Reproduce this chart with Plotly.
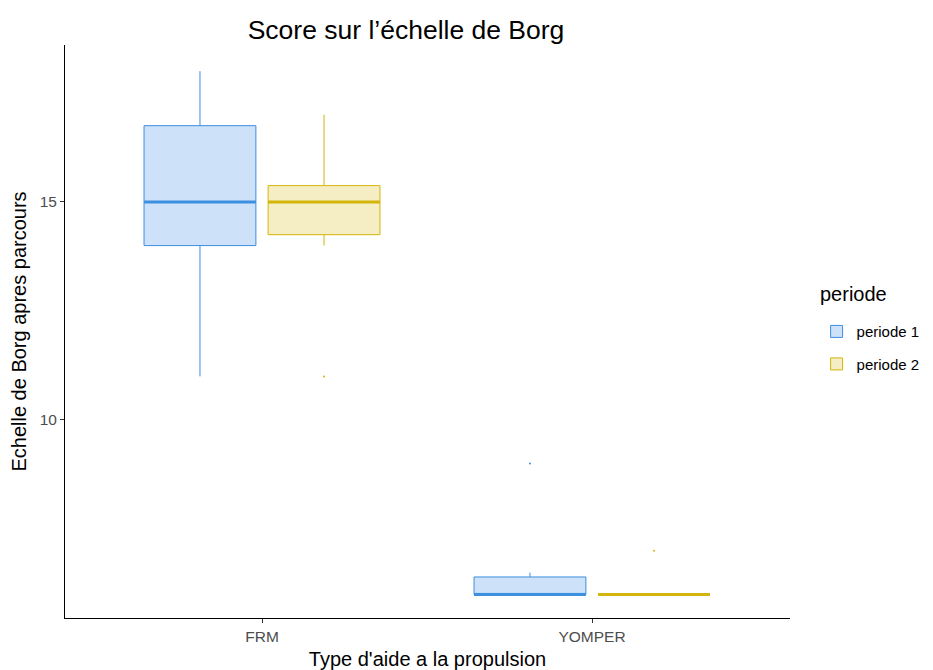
import plotly.graph_objects as go

# data
categories = ["FRM", "YOMPER"]
periods = ["periode 1", "periode 2"]

q1 = {"periode 1": [14, 6], "periode 2": [14.25, 6]}
median = {"periode 1": [15, 6], "periode 2": [15, 6]}
q3 = {"periode 1": [16.75, 6.4], "periode 2": [15.375, 6]}
lowerfence = {"periode 1": [11, 6], "periode 2": [14, 6]}
upperfence = {"periode 1": [18, 6.5], "periode 2": [17, 6]}
outliers_x = {"periode 1": ["YOMPER"], "periode 2": ["FRM", "YOMPER"]}
outliers_y = {"periode 1": [9], "periode 2": [11, 7]}

line_colors = {"periode 1": "#3d8fe0", "periode 2": "#d4b50b"}
fill_colors = {"periode 1": "#cde2f8", "periode 2": "#f5edc3"}

# dodge positions
dodge = {"periode 1": -0.188, "periode 2": 0.188}
box_w = 0.339
cat_pos = {c: i for i, c in enumerate(categories)}

# page has an 8px body margin, so the figure is a bit smaller
W, H = 925, 662

fig = go.Figure()
for p in periods:
    xs = [cat_pos[c] + dodge[p] for c in categories]
    fig.add_trace(go.Box(
        x=xs, q1=q1[p], median=median[p], q3=q3[p],
        lowerfence=lowerfence[p], upperfence=upperfence[p],
        width=box_w, whiskerwidth=0,
        name=p, legendgroup=p,
        line=dict(color=line_colors[p], width=1),
        fillcolor=fill_colors[p],
    ))
    # thicker median, like ggplot
    mx, my = [], []
    for i, c in enumerate(categories):
        x0 = cat_pos[c] + dodge[p]
        mx += [x0 - box_w / 2, x0 + box_w / 2, None]
        my += [median[p][i], median[p][i], None]
    fig.add_trace(go.Scatter(
        x=mx, y=my, mode="lines", line=dict(color=line_colors[p], width=3),
        showlegend=False, legendgroup=p, hoverinfo="skip",
    ))
    fig.add_trace(go.Scatter(
        x=[cat_pos[c] + dodge[p] for c in outliers_x[p]], y=outliers_y[p],
        mode="markers", marker=dict(color=line_colors[p], size=2),
        showlegend=False, legendgroup=p,
    ))

fig.update_layout(
    width=W, height=H,
    paper_bgcolor="white", plot_bgcolor="white",
    font=dict(family="Arial", color="black"),
    margin=dict(l=57, r=143, t=37, b=52, autoexpand=False),
    title=dict(text="Score sur l’échelle de Borg", x=398 / W, xanchor="center",
               y=1 - 22 / H, yanchor="middle", font=dict(size=26.5, color="black")),
    legend=dict(x=1.0367, xanchor="left", y=0.5285, yanchor="top",
                font=dict(size=15), tracegroupgap=10),
    showlegend=True,
    annotations=[dict(text="periode", xref="paper", yref="paper",
                      x=1.0386, xanchor="left", y=0.542, yanchor="bottom",
                      showarrow=False, font=dict(size=20, color="black"))],
)
fig.update_xaxes(
    range=[-0.597, 1.6], tickvals=list(range(len(categories))), ticktext=categories,
    showgrid=False, zeroline=False, showline=True, linecolor="black", linewidth=1,
    ticks="outside", ticklen=4, tickcolor="#333333", automargin=False,
    tickfont=dict(size=15.5, color="#4d4d4d"),
    title=dict(text="Type d'aide a la propulsion", font=dict(size=20), standoff=9),
)
fig.update_yaxes(
    range=[5.459, 18.6], tickvals=[10, 15],
    showgrid=False, zeroline=False, showline=True, linecolor="black", linewidth=1,
    ticks="outside", ticklen=4, tickcolor="#333333", automargin=False,
    tickfont=dict(size=15.5, color="#4d4d4d"),
    title=dict(text="Echelle de Borg apres parcours", font=dict(size=20), standoff=8),
)

fig.write_html("out.html")
